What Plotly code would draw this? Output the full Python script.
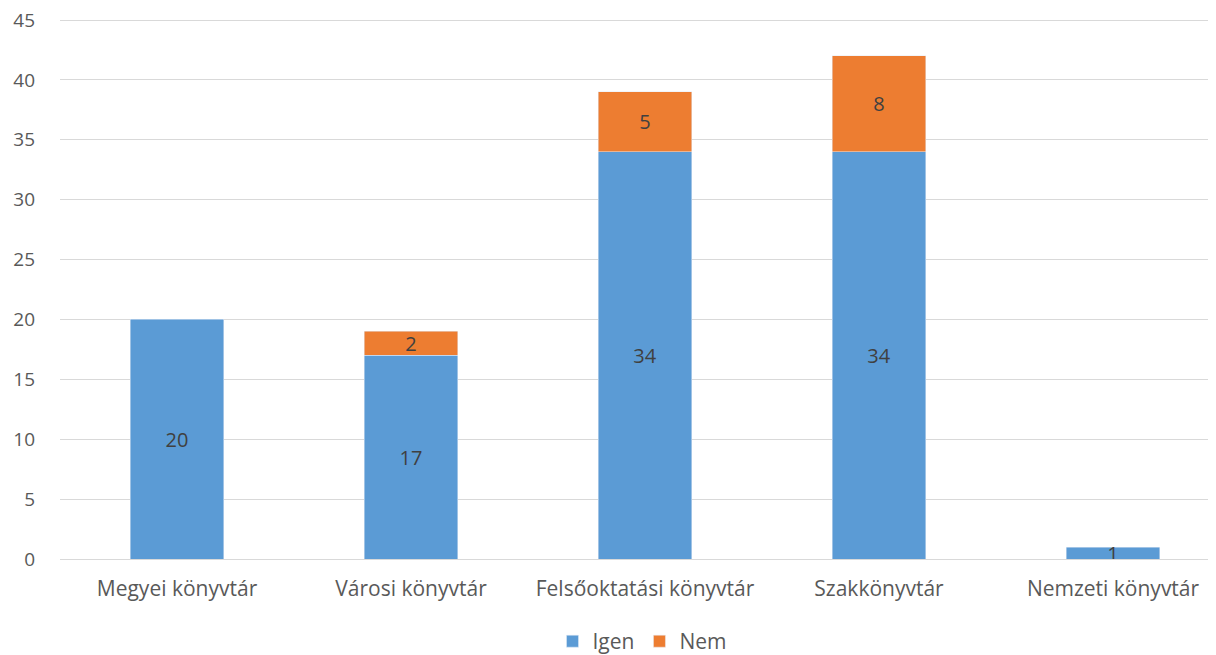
import plotly.graph_objects as go

categories = ["Megyei könyvtár", "Városi könyvtár", "Felsőoktatási könyvtár", "Szakkönyvtár", "Nemzeti könyvtár"]
igen = [20, 17, 34, 34, 1]
nem = [None, 2, 5, 8, None]
y_ticks = [0, 5, 10, 15, 20, 25, 30, 35, 40, 45]

FONT = "Open Sans, sans-serif"

fig = go.Figure()
fig.add_trace(go.Bar(
    name="Igen", x=categories, y=igen, marker_color="#5B9BD5",
    text=igen, textposition="inside", insidetextanchor="middle",
    constraintext="none", textangle=0,
    textfont=dict(color="#404040", size=20, family=FONT),
    width=0.4,
))
fig.add_trace(go.Bar(
    name="Nem", x=categories, y=nem, marker_color="#ED7D31",
    text=nem, textposition="inside", insidetextanchor="middle",
    constraintext="none", textangle=0,
    textfont=dict(color="#404040", size=20, family=FONT),
    width=0.4,
))

fig.update_layout(
    barmode="stack",
    width=1216, height=655,
    margin=dict(l=52, r=0, t=8, b=104),
    paper_bgcolor="white", plot_bgcolor="white",
    font=dict(family=FONT, size=19, color="#595959"),
    showlegend=True,
    legend=dict(orientation="h", x=0.5, xanchor="center", y=-0.152, yanchor="middle",
                font=dict(size=21, color="#595959"), traceorder="normal",
                itemwidth=30),
    xaxis=dict(range=[-0.5, -0.5 + 1164 / 234], showgrid=False, showline=False,
               ticks="", tickfont=dict(size=21, color="#595959"), zeroline=False,
               automargin=False, ticklabelstandoff=15),
    yaxis=dict(range=[0, 45.334], tickvals=y_ticks, showgrid=True, gridcolor="#D9D9D9",
               gridwidth=1, zeroline=True, zerolinecolor="#D9D9D9", zerolinewidth=1,
               showline=False, ticks="", ticklabelstandoff=24, automargin=False,
               ticklabeloverflow="allow",
               tickfont=dict(size=19, color="#595959")),
    bargap=0.6,
)

fig.write_html("out.html")
